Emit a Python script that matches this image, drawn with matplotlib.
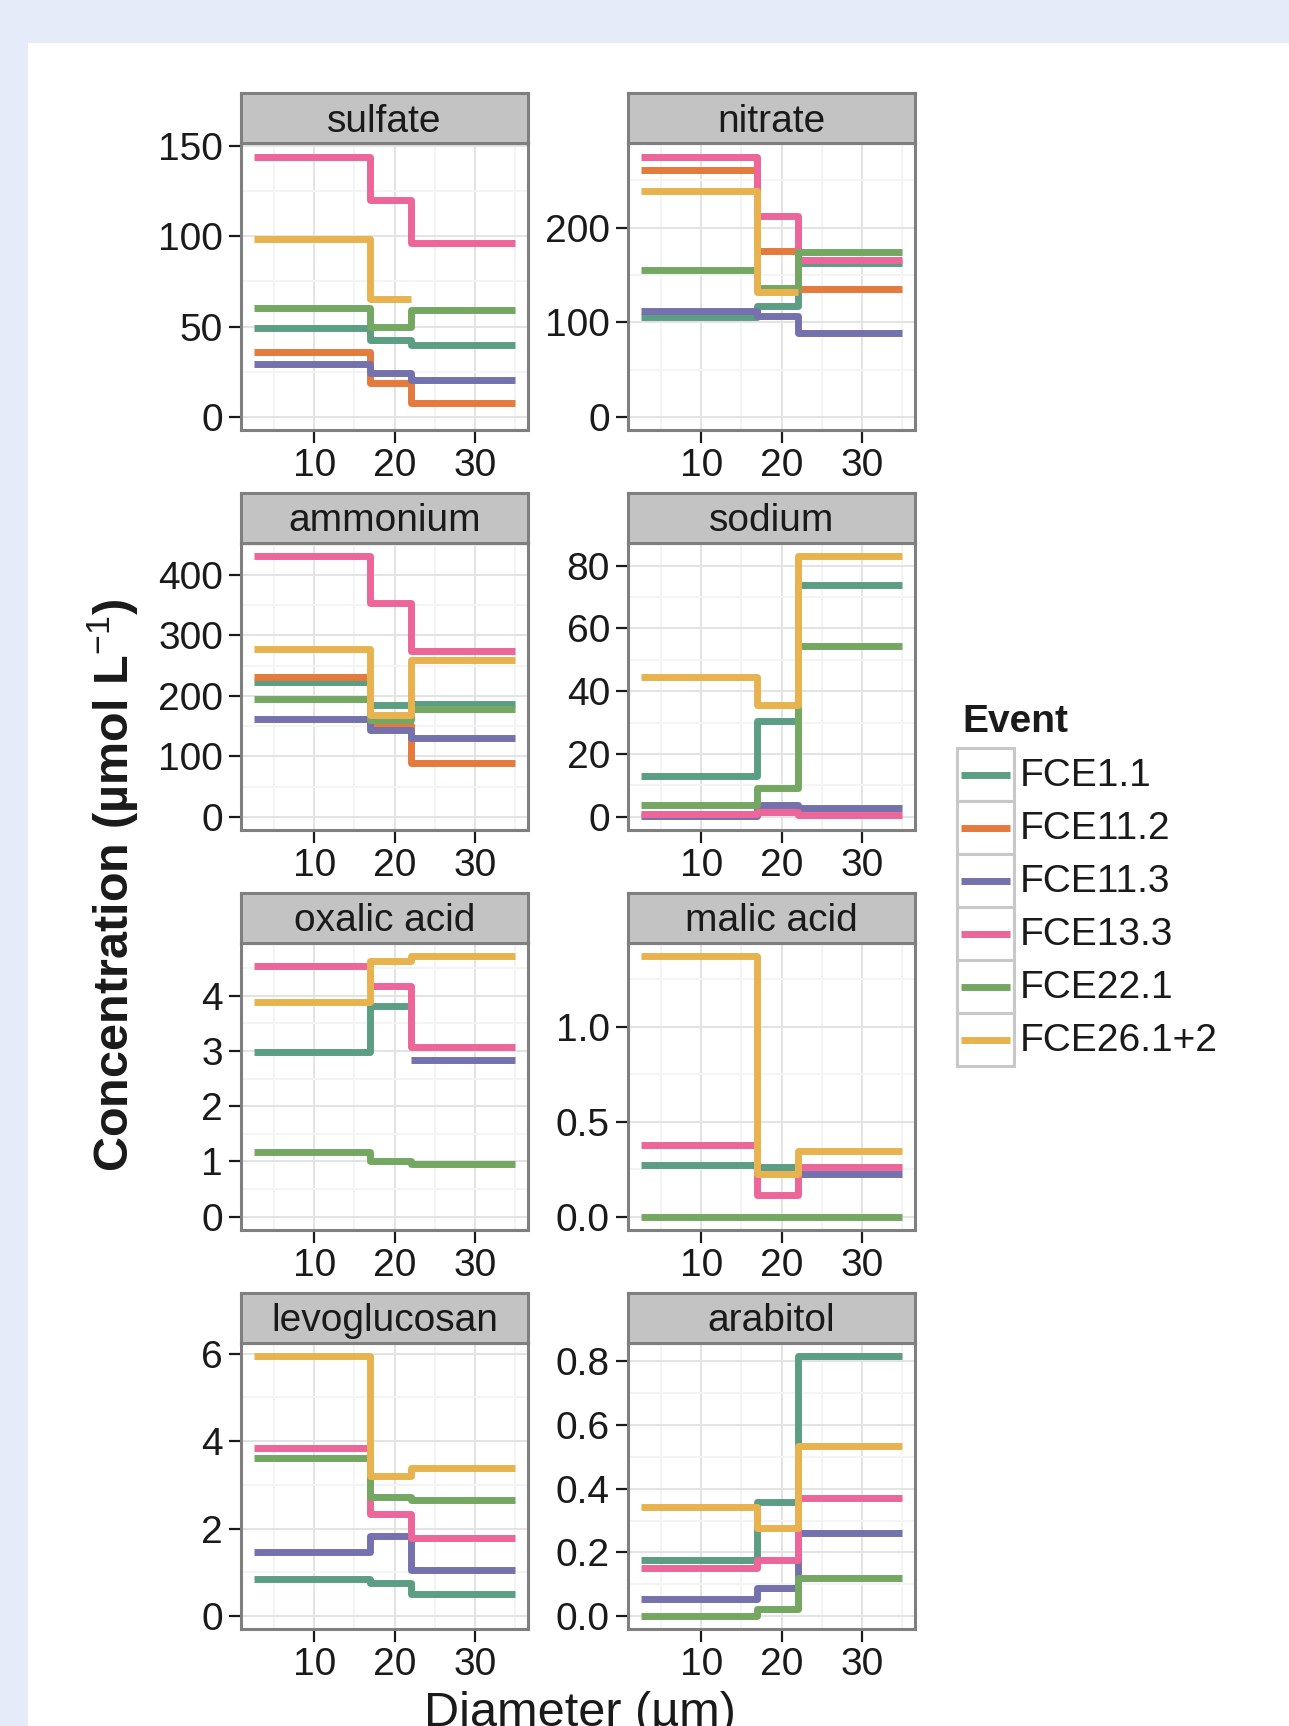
import numpy as np
import matplotlib
matplotlib.use("Agg")
import matplotlib.pyplot as plt
from matplotlib.patches import Rectangle
from matplotlib.ticker import FormatStrFormatter

plt.rcParams["font.family"] = ["Liberation Sans", "DejaVu Sans"]
plt.rcParams["mathtext.fontset"] = "custom"
plt.rcParams["mathtext.rm"] = "Liberation Sans"
plt.rcParams["mathtext.it"] = "Liberation Sans:italic"
plt.rcParams["mathtext.bf"] = "Liberation Sans:bold"

nan = np.nan

# stage boundaries (um) and events
stage_x = [2.5, 17, 22, 35]
events = ["FCE1.1", "FCE11.2", "FCE11.3", "FCE13.3", "FCE22.1", "FCE26.1+2"]
event_colors = ["#5c9e83", "#e47a3c", "#7571ad", "#ec6699", "#74a862", "#e8b34f"]

# concentration per stage (stage 1, 2, 3), one row per event
sulfate = [[49, 42.5, 40], [36, 19, 8], [29.5, 24.5, 20.5],
           [144, 120, 96], [60.5, 49.5, 59], [98.5, 65, nan]]
nitrate = [[106, 117.5, 163], [261, 175, 135], [111.5, 107, 89],
           [275, 212, 166], [155.5, 136, 174], [239, 131.5, nan]]
ammonium = [[223, 185, 187], [232, 152, 89], [162, 144, 130],
            [431, 354, 274], [195, 160, 178], [278, 169, 259]]
sodium = [[13, 30.5, 74], [nan, nan, nan], [0.2, 3.6, 2.7],
          [1.0, 1.5, 0.7], [3.6, 9.2, 54.5], [44.5, 35.5, 83]]
oxalic = [[2.98, 3.81, nan], [nan, nan, nan], [nan, nan, 2.84],
          [4.53, 4.17, 3.07], [1.18, 1.0, 0.95], [3.88, 4.63, 4.71]]
malic = [[0.27, 0.26, nan], [nan, nan, nan], [nan, nan, 0.225],
         [0.375, 0.115, 0.26], [0.0, 0.0, 0.0], [1.37, 0.225, 0.345]]
levoglucosan = [[0.86, 0.75, 0.51], [nan, nan, nan], [1.46, 1.83, 1.05],
                [3.85, 2.34, 1.78], [3.62, 2.73, 2.66], [5.95, 3.2, 3.38]]
arabitol = [[0.175, 0.36, 0.818], [nan, nan, nan], [0.055, 0.087, 0.26],
            [0.152, 0.176, 0.37], [0.0, 0.023, 0.121], [0.343, 0.278, 0.533]]

panel_names = ["sulfate", "nitrate", "ammonium", "sodium",
               "oxalic acid", "malic acid", "levoglucosan", "arabitol"]
panel_data = [sulfate, nitrate, ammonium, sodium, oxalic, malic, levoglucosan, arabitol]
panel_yticks = [[0, 50, 100, 150], [0, 100, 200], [0, 100, 200, 300, 400],
                [0, 20, 40, 60, 80], [0, 1, 2, 3, 4], [0.0, 0.5, 1.0],
                [0, 2, 4, 6], [0.0, 0.2, 0.4, 0.6, 0.8]]
panel_fmt = ["%d", "%d", "%d", "%d", "%d", "%.1f", "%d", "%.1f"]

W, H = 1289, 1726
fig = plt.figure(figsize=(W / 100, H / 100), dpi=100)
fig.patch.set_facecolor("#e5ebf9")

# pixel-space overlay for background + legend
bg = fig.add_axes([0, 0, 1, 1], zorder=-5)
bg.set_xlim(0, W); bg.set_ylim(H, 0); bg.axis("off")
bg.add_patch(Rectangle((28, 43), W - 28, H - 43, facecolor="white", edgecolor="none"))


def px_box(left, top, w, h):
    return [left / W, 1 - (top + h) / H, w / W, h / H]


col_left = [241, 628]
row_top = [143.5, 543.3, 943.3, 1342.7]
pw, ph, sh = 287, 286.5, 50
border = "#7f7f7f"
txt = "#1a1a1a"
lw_line = 5.0

for i, (name, vals) in enumerate(zip(panel_names, panel_data)):
    r, c = divmod(i, 2)
    left, top = col_left[c], row_top[r]
    ax = fig.add_axes(px_box(left, top, pw, ph))
    for ev, col, v in zip(events, event_colors, vals):
        if np.all(np.isnan(v)):
            continue
        ax.step(stage_x, list(v) + [v[-1]], where="post", color=col, lw=lw_line,
                solid_capstyle="butt", solid_joinstyle="round", label=ev)
    yt = panel_yticks[i]
    ax.set_xticks([10, 20, 30])
    ax.set_xticks([5, 15, 25, 35], minor=True)
    ax.set_yticks(yt)
    step = yt[1] - yt[0]
    ax.set_yticks([t + step / 2 for t in yt], minor=True)
    ymax = np.nanmax(np.array(vals, dtype=float))
    ax.set_ylim(-0.05 * ymax, 1.05 * ymax)
    ax.set_xlim(0.875, 36.625)
    ax.yaxis.set_major_formatter(FormatStrFormatter(panel_fmt[i]))
    ax.grid(which="major", color="#e3e3e3", lw=1.4)
    ax.grid(which="minor", color="#f4f4f4", lw=1.4)
    ax.set_axisbelow(True)
    ax.tick_params(which="major", direction="out", length=9, width=1.6, color=txt,
                   labelsize=28, labelcolor=txt, pad=4)
    ax.tick_params(which="minor", length=0)
    for s in ax.spines.values():
        s.set_color(border); s.set_linewidth(2.2)

    sax = fig.add_axes(px_box(left, top - sh, pw, sh))
    sax.set_facecolor("#c3c3c3")
    sax.set_xticks([]); sax.set_yticks([])
    for s in sax.spines.values():
        s.set_color(border); s.set_linewidth(2.2)
    sax.text(0.5, 0.44, name, ha="center", va="center", fontsize=28, color=txt,
             transform=sax.transAxes)

fig.text(580 / W, 0.0, "Diameter (µm)", ha="center", va="baseline", fontsize=35, color=txt)
fig.text(113 / W, 1 - 885 / H, r"Concentration (µmol L$^{-1}$)", ha="center", va="center",
         rotation=90, fontsize=35, fontweight="bold", color=txt)

# legend
bg.text(962, 722, "Event", ha="left", va="center", fontsize=28, fontweight="bold", color=txt)
key_top, key_h, key_l, key_w = 748, 53, 957, 57
for j, (ev, col) in enumerate(zip(events, event_colors)):
    y0 = key_top + j * key_h
    bg.add_patch(Rectangle((key_l, y0), key_w, key_h, facecolor="white",
                           edgecolor="#c8c8c8", lw=2.2))
    bg.plot([key_l + 4, key_l + key_w - 4], [y0 + key_h / 2] * 2, color=col, lw=lw_line,
            solid_capstyle="butt")
    bg.text(1020, y0 + key_h / 2 + 1, ev, ha="left", va="center", fontsize=28, color=txt)

fig.savefig("out.png", dpi=100, facecolor=fig.get_facecolor())
